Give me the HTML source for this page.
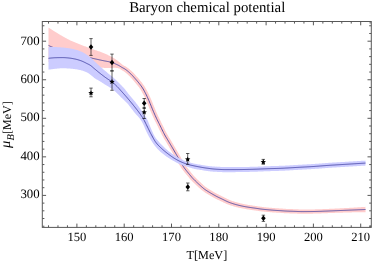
<!DOCTYPE html><html><head><meta charset="utf-8"><style>html,body{margin:0;padding:0;background:#fff;}body{width:372px;height:262px;overflow:hidden;position:relative;font-family:"Liberation Serif",serif;}</style></head><body><svg width="372" height="262" viewBox="0 0 372 262" style="position:absolute;left:0;top:0;will-change:transform;text-rendering:geometricPrecision">
<rect width="372" height="262" fill="#fff"/>
<path d="M48.50,27.60 L49.11,27.98 L49.72,28.36 L50.33,28.74 L50.94,29.12 L51.55,29.50 L52.16,29.88 L52.76,30.26 L53.37,30.64 L53.98,31.01 L54.59,31.39 L55.20,31.76 L55.81,32.14 L56.42,32.51 L57.03,32.89 L57.64,33.26 L58.25,33.64 L58.86,34.01 L59.47,34.39 L60.08,34.76 L60.68,35.13 L61.29,35.49 L61.90,35.85 L62.51,36.21 L63.12,36.56 L63.73,36.91 L64.34,37.25 L64.95,37.60 L65.56,37.94 L66.17,38.28 L66.78,38.61 L67.39,38.93 L68.00,39.25 L68.61,39.55 L69.21,39.85 L69.82,40.14 L70.43,40.43 L71.04,40.71 L71.65,40.99 L72.26,41.26 L72.87,41.53 L73.48,41.79 L74.09,42.05 L74.70,42.31 L75.31,42.57 L75.92,42.83 L76.53,43.08 L77.13,43.33 L77.74,43.58 L78.35,43.82 L78.96,44.06 L79.57,44.30 L80.18,44.54 L80.79,44.78 L81.40,45.02 L82.01,45.25 L82.62,45.47 L83.23,45.70 L83.84,45.92 L84.45,46.15 L85.05,46.37 L85.66,46.59 L86.27,46.82 L86.88,47.04 L87.49,47.27 L88.10,47.51 L88.71,47.74 L89.32,47.98 L89.93,48.22 L90.54,48.45 L91.15,48.68 L91.76,48.90 L92.37,49.13 L92.97,49.34 L93.58,49.56 L94.19,49.77 L94.80,49.97 L95.41,50.16 L96.02,50.35 L96.63,50.55 L97.24,50.75 L97.85,50.95 L98.46,51.16 L99.07,51.37 L99.68,51.59 L100.29,51.81 L100.89,52.03 L101.50,52.26 L102.11,52.49 L102.72,52.73 L103.33,52.98 L103.94,53.23 L104.55,53.49 L105.16,53.76 L105.77,54.03 L106.38,54.30 L106.99,54.57 L107.60,54.85 L108.21,55.13 L108.82,55.41 L109.42,55.70 L110.03,56.01 L110.64,56.32 L111.25,56.64 L111.86,56.98 L112.47,57.33 L113.08,57.69 L113.69,58.06 L114.30,58.44 L114.91,58.84 L115.52,59.25 L116.13,59.69 L116.74,60.15 L117.34,60.62 L117.95,61.09 L118.56,61.55 L119.17,62.01 L119.78,62.47 L120.39,62.93 L121.00,63.40 L122.85,65.04 L123.41,65.36 L123.98,65.66 L124.62,65.98 L125.33,66.35 L126.07,66.78 L126.79,67.26 L127.49,67.75 L128.18,68.27 L128.87,68.81 L129.54,69.36 L130.21,69.94 L130.87,70.52 L131.53,71.12 L132.19,71.72 L132.86,72.36 L133.55,73.05 L134.23,73.77 L134.89,74.50 L135.53,75.23 L136.16,75.94 L136.80,76.65 L137.44,77.37 L138.08,78.09 L138.73,78.84 L139.38,79.60 L140.04,80.38 L140.69,81.18 L141.35,82.01 L142.01,82.86 L142.66,83.74 L143.32,84.63 L143.99,85.58 L144.67,86.60 L145.34,87.72 L146.01,88.88 L146.66,90.07 L147.30,91.28 L147.95,92.54 L148.60,93.85 L149.25,95.22 L149.89,96.63 L150.53,98.06 L151.17,99.53 L151.81,101.03 L152.45,102.57 L153.09,104.15 L153.72,105.73 L154.35,107.29 L154.97,108.80 L155.59,110.27 L156.22,111.73 L156.85,113.16 L157.47,114.56 L158.09,115.94 L158.72,117.27 L159.34,118.57 L159.96,119.84 L160.59,121.11 L161.23,122.38 L161.87,123.66 L162.51,124.96 L163.15,126.27 L163.78,127.58 L164.41,128.87 L165.04,130.15 L165.67,131.39 L166.29,132.59 L166.90,133.74 L167.51,134.83 L168.13,135.87 L168.75,136.91 L169.39,137.94 L170.03,138.98 L170.67,140.05 L171.31,141.12 L171.94,142.18 L172.58,143.25 L173.21,144.32 L173.85,145.39 L174.49,146.47 L175.13,147.55 L175.76,148.64 L176.40,149.74 L177.04,150.84 L177.67,151.94 L178.31,153.03 L178.94,154.12 L179.58,155.23 L180.23,156.35 L180.87,157.49 L181.50,158.63 L182.14,159.77 L182.77,160.88 L183.39,161.97 L184.01,163.02 L184.62,164.03 L185.23,164.98 L185.83,165.87 L186.43,166.71 L187.04,167.53 L187.65,168.32 L188.26,169.09 L188.88,169.85 L189.51,170.61 L190.15,171.37 L190.79,172.15 L191.43,172.94 L192.07,173.72 L192.69,174.48 L193.30,175.22 L193.90,175.91 L194.50,176.57 L195.11,177.21 L195.73,177.85 L196.34,178.47 L196.96,179.08 L197.58,179.68 L198.20,180.27 L198.83,180.86 L199.46,181.45 L200.09,182.03 L200.72,182.62 L201.36,183.21 L201.99,183.79 L202.61,184.36 L203.23,184.92 L203.84,185.46 L204.45,185.98 L205.05,186.47 L205.64,186.93 L206.23,187.37 L206.82,187.78 L207.41,188.18 L208.02,188.57 L208.62,188.95 L209.24,189.32 L209.86,189.69 L210.49,190.07 L211.13,190.44 L211.77,190.82 L212.40,191.19 L213.03,191.56 L213.66,191.93 L214.28,192.29 L214.90,192.64 L215.52,192.99 L216.14,193.33 L216.76,193.67 L217.37,193.99 L217.98,194.31 L218.59,194.62 L219.21,194.93 L219.83,195.23 L220.45,195.53 L221.08,195.83 L221.71,196.13 L222.35,196.44 L222.99,196.75 L223.64,197.06 L224.29,197.39 L224.93,197.71 L225.57,198.04 L226.19,198.36 L226.81,198.67 L227.42,198.97 L228.02,199.26 L228.61,199.53 L229.19,199.78 L229.79,200.02 L230.39,200.25 L231.00,200.48 L231.61,200.70 L232.22,200.92 L232.84,201.13 L233.45,201.33 L234.07,201.53 L234.68,201.72 L235.30,201.91 L235.92,202.09 L236.54,202.27 L237.16,202.45 L237.78,202.62 L238.40,202.78 L239.02,202.94 L239.64,203.10 L240.25,203.25 L240.87,203.40 L241.49,203.54 L242.11,203.68 L242.73,203.82 L243.35,203.95 L243.98,204.08 L244.60,204.20 L245.22,204.32 L245.84,204.44 L246.47,204.55 L247.09,204.66 L247.72,204.77 L248.34,204.88 L248.96,204.98 L249.59,205.08 L250.21,205.17 L250.84,205.27 L251.47,205.36 L252.10,205.45 L252.74,205.54 L253.37,205.63 L254.01,205.72 L254.64,205.81 L255.28,205.90 L255.92,206.00 L256.56,206.09 L257.21,206.19 L257.85,206.29 L258.48,206.39 L259.12,206.49 L259.75,206.59 L260.37,206.68 L260.99,206.77 L261.61,206.86 L262.22,206.94 L262.84,207.01 L263.46,207.08 L264.08,207.15 L264.71,207.21 L265.34,207.28 L265.97,207.34 L266.60,207.40 L267.23,207.45 L267.87,207.51 L268.50,207.57 L269.13,207.63 L269.77,207.68 L270.40,207.74 L271.03,207.80 L271.66,207.85 L272.29,207.90 L272.92,207.96 L273.55,208.01 L274.18,208.06 L274.81,208.10 L275.44,208.15 L276.07,208.19 L276.70,208.24 L277.34,208.28 L277.97,208.32 L278.60,208.36 L279.24,208.40 L279.88,208.44 L280.51,208.48 L281.15,208.53 L281.80,208.57 L282.44,208.62 L283.07,208.67 L283.70,208.71 L284.33,208.76 L284.96,208.80 L285.59,208.84 L286.21,208.88 L286.83,208.91 L287.45,208.94 L288.08,208.97 L288.70,208.99 L289.34,209.01 L289.97,209.03 L290.60,209.05 L291.24,209.07 L291.87,209.09 L292.51,209.12 L293.15,209.14 L293.79,209.16 L294.44,209.19 L295.08,209.22 L295.72,209.25 L296.35,209.28 L296.99,209.31 L297.62,209.34 L298.25,209.36 L298.87,209.39 L299.50,209.41 L300.12,209.43 L300.74,209.45 L301.36,209.46 L301.98,209.46 L302.61,209.46 L303.24,209.46 L303.87,209.46 L304.50,209.46 L305.14,209.46 L305.77,209.46 L306.40,209.46 L307.04,209.45 L307.67,209.45 L308.31,209.44 L308.94,209.44 L309.57,209.43 L310.21,209.43 L310.84,209.42 L311.48,209.42 L312.11,209.41 L312.75,209.40 L313.38,209.40 L314.01,209.39 L314.64,209.38 L315.27,209.37 L315.90,209.36 L316.53,209.34 L317.16,209.32 L317.79,209.31 L318.42,209.29 L319.05,209.26 L319.68,209.24 L320.32,209.22 L320.95,209.19 L321.58,209.17 L322.22,209.15 L322.85,209.12 L323.49,209.09 L324.12,209.07 L324.76,209.05 L325.40,209.02 L326.04,209.00 L326.67,208.97 L327.30,208.95 L327.94,208.92 L328.57,208.90 L329.21,208.87 L329.84,208.84 L330.47,208.81 L331.11,208.79 L331.74,208.76 L332.38,208.73 L333.01,208.70 L333.65,208.67 L334.28,208.64 L334.92,208.60 L335.55,208.57 L336.19,208.54 L336.82,208.51 L337.46,208.48 L338.10,208.45 L338.73,208.41 L339.37,208.38 L340.00,208.35 L340.64,208.32 L341.27,208.29 L341.91,208.25 L342.54,208.22 L343.18,208.19 L343.81,208.15 L344.45,208.12 L345.08,208.09 L345.72,208.05 L346.35,208.02 L346.99,207.99 L347.62,207.95 L348.26,207.92 L348.89,207.88 L349.53,207.85 L350.16,207.82 L350.80,207.78 L351.43,207.75 L352.07,207.71 L352.70,207.68 L353.33,207.64 L353.97,207.60 L354.60,207.56 L355.24,207.52 L355.87,207.49 L356.51,207.45 L357.14,207.41 L357.78,207.37 L358.41,207.32 L359.05,207.28 L359.68,207.24 L360.32,207.20 L360.95,207.16 L361.59,207.12 L362.22,207.07 L362.86,207.03 L363.49,206.99 L364.12,206.95 L364.76,206.90 L365.39,206.86 L365.61,212.15 L364.97,212.16 L364.33,212.16 L363.70,212.17 L363.06,212.18 L362.43,212.19 L361.79,212.20 L361.15,212.21 L360.52,212.22 L359.88,212.22 L359.25,212.23 L358.61,212.24 L357.98,212.25 L357.34,212.27 L356.70,212.28 L356.07,212.29 L355.43,212.30 L354.80,212.31 L354.16,212.33 L353.52,212.34 L352.89,212.36 L352.25,212.37 L351.62,212.39 L350.98,212.40 L350.35,212.42 L349.71,212.44 L349.08,212.45 L348.44,212.47 L347.80,212.49 L347.17,212.51 L346.53,212.53 L345.90,212.54 L345.26,212.56 L344.63,212.58 L343.99,212.60 L343.36,212.62 L342.72,212.64 L342.08,212.66 L341.45,212.67 L340.81,212.69 L340.18,212.71 L339.54,212.73 L338.91,212.75 L338.27,212.77 L337.64,212.79 L337.00,212.81 L336.37,212.83 L335.73,212.85 L335.10,212.87 L334.46,212.90 L333.82,212.92 L333.19,212.94 L332.55,212.96 L331.92,212.99 L331.28,213.01 L330.65,213.03 L330.01,213.05 L329.37,213.08 L328.74,213.10 L328.10,213.12 L327.46,213.15 L326.83,213.17 L326.19,213.19 L325.56,213.22 L324.92,213.24 L324.29,213.27 L323.66,213.29 L323.02,213.32 L322.39,213.34 L321.75,213.37 L321.11,213.40 L320.48,213.42 L319.84,213.45 L319.20,213.47 L318.56,213.49 L317.92,213.51 L317.28,213.53 L316.64,213.55 L316.00,213.57 L315.36,213.59 L314.71,213.60 L314.07,213.61 L313.44,213.62 L312.80,213.63 L312.16,213.64 L311.53,213.65 L310.89,213.66 L310.26,213.67 L309.62,213.67 L308.98,213.68 L308.35,213.69 L307.71,213.70 L307.07,213.70 L306.44,213.71 L305.80,213.72 L305.16,213.72 L304.52,213.73 L303.89,213.73 L303.25,213.73 L302.61,213.74 L301.97,213.74 L301.32,213.74 L300.66,213.73 L300.01,213.72 L299.37,213.70 L298.72,213.68 L298.08,213.66 L297.44,213.63 L296.80,213.61 L296.16,213.58 L295.52,213.55 L294.89,213.53 L294.26,213.50 L293.63,213.48 L293.01,213.46 L292.38,213.44 L291.74,213.43 L291.11,213.41 L290.48,213.39 L289.84,213.38 L289.20,213.36 L288.56,213.34 L287.92,213.32 L287.27,213.30 L286.63,213.27 L285.98,213.24 L285.33,213.21 L284.68,213.17 L284.04,213.13 L283.40,213.08 L282.76,213.04 L282.12,213.00 L281.49,212.95 L280.86,212.91 L280.23,212.87 L279.60,212.84 L278.97,212.80 L278.33,212.76 L277.70,212.72 L277.06,212.68 L276.42,212.64 L275.78,212.60 L275.14,212.56 L274.50,212.52 L273.86,212.47 L273.22,212.43 L272.58,212.38 L271.94,212.33 L271.30,212.28 L270.66,212.23 L270.02,212.18 L269.38,212.12 L268.74,212.07 L268.11,212.01 L267.47,211.96 L266.83,211.90 L266.20,211.85 L265.56,211.79 L264.92,211.73 L264.27,211.67 L263.63,211.61 L262.98,211.55 L262.33,211.48 L261.68,211.40 L261.02,211.32 L260.37,211.24 L259.72,211.14 L259.07,211.05 L258.43,210.95 L257.79,210.86 L257.16,210.76 L256.53,210.67 L255.90,210.58 L255.27,210.49 L254.64,210.40 L254.01,210.31 L253.38,210.23 L252.74,210.14 L252.11,210.05 L251.47,209.97 L250.83,209.88 L250.19,209.79 L249.55,209.70 L248.90,209.61 L248.26,209.51 L247.61,209.41 L246.96,209.31 L246.32,209.20 L245.67,209.09 L245.02,208.98 L244.38,208.86 L243.73,208.74 L243.08,208.62 L242.43,208.50 L241.78,208.37 L241.13,208.23 L240.48,208.09 L239.83,207.95 L239.18,207.81 L238.53,207.65 L237.87,207.50 L237.22,207.33 L236.57,207.17 L235.92,207.00 L235.27,206.82 L234.62,206.64 L233.97,206.45 L233.31,206.27 L232.66,206.07 L232.01,205.87 L231.35,205.66 L230.69,205.45 L230.03,205.22 L229.37,204.99 L228.71,204.76 L228.05,204.51 L227.37,204.25 L226.68,203.96 L226.00,203.66 L225.33,203.36 L224.67,203.04 L224.02,202.73 L223.37,202.41 L222.74,202.10 L222.11,201.79 L221.49,201.49 L220.87,201.20 L220.24,200.91 L219.60,200.62 L218.96,200.32 L218.32,200.02 L217.68,199.72 L217.02,199.41 L216.37,199.09 L215.71,198.76 L215.05,198.42 L214.40,198.07 L213.74,197.72 L213.09,197.36 L212.44,196.99 L211.79,196.62 L211.14,196.24 L210.50,195.86 L209.86,195.48 L209.22,195.09 L208.59,194.71 L207.95,194.34 L207.31,193.95 L206.67,193.56 L206.01,193.15 L205.35,192.73 L204.68,192.29 L204.01,191.83 L203.33,191.35 L202.64,190.83 L201.96,190.29 L201.29,189.73 L200.63,189.16 L199.97,188.58 L199.32,187.99 L198.67,187.40 L198.03,186.80 L197.39,186.21 L196.76,185.63 L196.12,185.04 L195.48,184.44 L194.83,183.83 L194.18,183.21 L193.53,182.58 L192.88,181.94 L192.23,181.28 L191.57,180.60 L190.91,179.90 L190.24,179.16 L189.57,178.39 L188.91,177.60 L188.27,176.81 L187.63,176.03 L187.00,175.26 L186.37,174.50 L185.74,173.74 L185.10,172.96 L184.45,172.16 L183.79,171.34 L183.13,170.49 L182.47,169.60 L181.80,168.66 L181.13,167.67 L180.46,166.62 L179.80,165.54 L179.15,164.43 L178.51,163.30 L177.86,162.17 L177.23,161.02 L176.59,159.89 L175.96,158.77 L175.34,157.67 L174.71,156.59 L174.07,155.49 L173.43,154.39 L172.80,153.29 L172.16,152.20 L171.53,151.11 L170.90,150.03 L170.27,148.96 L169.64,147.89 L169.00,146.82 L168.37,145.76 L167.73,144.70 L167.10,143.63 L166.46,142.57 L165.84,141.53 L165.21,140.50 L164.57,139.45 L163.92,138.38 L163.27,137.27 L162.61,136.10 L161.95,134.88 L161.30,133.62 L160.66,132.33 L160.01,131.03 L159.37,129.72 L158.74,128.41 L158.11,127.11 L157.48,125.83 L156.85,124.57 L156.21,123.30 L155.57,122.03 L154.92,120.72 L154.28,119.38 L153.63,118.00 L152.98,116.60 L152.33,115.16 L151.69,113.70 L151.05,112.23 L150.40,110.73 L149.75,109.18 L149.10,107.60 L148.47,106.02 L147.83,104.48 L147.20,102.99 L146.57,101.53 L145.94,100.10 L145.31,98.71 L144.68,97.36 L144.06,96.07 L143.44,94.83 L142.82,93.64 L142.20,92.49 L141.57,91.36 L140.97,90.31 L140.37,89.34 L139.78,88.46 L139.18,87.61 L138.56,86.77 L137.95,85.95 L137.34,85.15 L136.72,84.38 L136.11,83.63 L135.49,82.89 L134.87,82.17 L134.25,81.46 L133.63,80.75 L133.00,80.04 L132.36,79.32 L131.72,78.60 L131.09,77.89 L130.48,77.22 L129.89,76.58 L129.31,76.00 L128.71,75.43 L128.10,74.85 L127.48,74.29 L126.88,73.75 L126.28,73.23 L125.68,72.74 L125.09,72.27 L124.51,71.83 L123.94,71.42 L123.40,71.06 L122.87,70.74 L122.31,70.44 L121.67,70.12 L120.97,69.74 L120.00,68.80 L119.40,68.59 L118.80,68.39 L118.20,68.24 L117.60,68.12 L117.00,68.01 L116.39,67.91 L115.79,67.84 L115.19,67.80 L114.59,67.80 L113.99,67.82 L113.39,67.84 L112.79,67.86 L112.19,67.88 L111.59,67.90 L110.99,67.92 L110.39,67.93 L109.79,67.95 L109.18,67.96 L108.58,67.98 L107.98,67.99 L107.38,68.00 L106.78,68.00 L106.18,68.00 L105.58,67.98 L104.98,67.95 L104.38,67.91 L103.78,67.87 L103.18,67.81 L102.58,67.76 L101.97,67.70 L101.37,67.64 L100.77,67.57 L100.17,67.52 L99.57,67.46 L98.97,67.40 L98.37,67.34 L97.77,67.27 L97.17,67.21 L96.57,67.14 L95.97,67.06 L95.37,66.99 L94.76,66.91 L94.16,66.82 L93.56,66.73 L92.96,66.64 L92.36,66.53 L91.76,66.41 L91.16,66.29 L90.56,66.16 L89.96,66.03 L89.36,65.89 L88.76,65.75 L88.16,65.61 L87.55,65.46 L86.95,65.32 L86.35,65.18 L85.75,65.04 L85.15,64.90 L84.55,64.77 L83.95,64.64 L83.35,64.52 L82.75,64.40 L82.15,64.30 L81.55,64.20 L80.95,64.11 L80.34,64.04 L79.74,63.97 L79.14,63.91 L78.54,63.85 L77.94,63.79 L77.34,63.73 L76.74,63.67 L76.14,63.61 L75.54,63.55 L74.94,63.49 L74.34,63.44 L73.74,63.38 L73.13,63.32 L72.53,63.27 L71.93,63.21 L71.33,63.16 L70.73,63.11 L70.13,63.05 L69.53,63.00 L68.93,62.95 L68.33,62.90 L67.73,62.85 L67.13,62.81 L66.53,62.76 L65.92,62.71 L65.32,62.67 L64.72,62.63 L64.12,62.58 L63.52,62.54 L62.92,62.50 L62.32,62.47 L61.72,62.43 L61.12,62.39 L60.52,62.36 L59.92,62.33 L59.32,62.29 L58.71,62.26 L58.11,62.23 L57.51,62.21 L56.91,62.18 L56.31,62.16 L55.71,62.13 L55.11,62.11 L54.51,62.09 L53.91,62.08 L53.31,62.06 L52.71,62.05 L52.11,62.03 L51.50,62.02 L50.90,62.02 L50.30,62.01 L49.70,62.00 L49.10,62.00 L48.50,62.00Z" fill="#ffcccc"/>
<path d="M48.50,45.40 L49.14,45.72 L49.77,46.03 L50.41,46.33 L51.04,46.62 L51.68,46.90 L52.31,47.15 L52.95,47.39 L53.58,47.61 L54.22,47.82 L54.85,48.03 L55.49,48.22 L56.12,48.41 L56.76,48.59 L57.39,48.77 L58.03,48.94 L58.66,49.12 L59.30,49.30 L59.93,49.48 L60.57,49.67 L61.21,49.85 L61.84,50.03 L62.48,50.21 L63.11,50.39 L63.75,50.57 L64.38,50.75 L65.02,50.92 L65.65,51.10 L66.29,51.28 L66.92,51.45 L67.56,51.63 L68.19,51.80 L68.83,51.98 L69.46,52.15 L70.10,52.33 L70.73,52.50 L71.37,52.68 L72.01,52.85 L72.64,53.02 L73.28,53.19 L73.91,53.37 L74.55,53.54 L75.18,53.71 L75.82,53.88 L76.45,54.05 L77.09,54.22 L77.72,54.39 L78.36,54.56 L78.99,54.73 L79.63,54.90 L80.26,55.07 L80.90,55.24 L81.53,55.41 L82.17,55.59 L82.80,55.76 L83.44,55.93 L84.08,56.11 L84.71,56.28 L85.35,56.45 L85.98,56.62 L86.62,56.79 L87.25,56.96 L87.89,57.13 L88.52,57.30 L89.16,57.46 L89.79,57.62 L90.43,57.78 L91.06,57.94 L91.70,58.10 L92.33,58.25 L92.97,58.40 L93.60,58.55 L94.24,58.69 L94.87,58.84 L95.51,58.98 L96.15,59.12 L96.78,59.26 L97.42,59.40 L98.05,59.54 L98.69,59.68 L99.32,59.82 L99.96,59.95 L100.59,60.09 L101.23,60.22 L101.86,60.36 L102.50,60.49 L103.13,60.62 L103.77,60.76 L104.40,60.88 L105.04,61.00 L105.67,61.12 L106.31,61.24 L106.94,61.35 L107.58,61.47 L108.22,61.59 L108.85,61.72 L109.49,61.85 L110.12,61.99 L110.76,62.15 L111.39,62.31 L112.03,62.50 L112.66,62.71 L113.30,62.96 L113.93,63.22 L114.57,63.50 L115.20,63.79 L115.84,64.07 L116.47,64.36 L117.11,64.65 L117.74,64.96 L118.38,65.28 L119.02,65.62 L119.65,65.99 L120.29,66.38 L120.92,66.78 L121.56,67.18 L122.19,67.55 L122.83,67.89 L123.46,68.21 L124.10,68.55 L124.73,68.92 L125.37,69.34 L126.00,69.79 L126.64,70.27 L127.27,70.77 L127.91,71.30 L128.54,71.84 L129.18,72.41 L129.81,72.99 L130.45,73.58 L131.09,74.18 L131.72,74.82 L132.36,75.49 L132.99,76.20 L133.63,76.91 L134.26,77.63 L134.90,78.34 L135.53,79.06 L136.17,79.78 L136.80,80.50 L137.44,81.25 L138.07,82.00 L138.71,82.78 L139.34,83.58 L139.98,84.40 L140.61,85.25 L141.25,86.12 L141.88,87.02 L142.52,87.97 L143.16,89.01 L143.79,90.12 L144.43,91.28 L145.06,92.46 L145.70,93.69 L146.33,94.96 L146.97,96.29 L147.60,97.67 L148.24,99.08 L148.87,100.53 L149.51,102.01 L150.14,103.52 L150.78,105.08 L151.41,106.67 L152.05,108.24 L152.68,109.76 L153.32,111.25 L153.95,112.72 L154.59,114.16 L155.23,115.58 L155.86,116.97 L156.50,118.33 L157.13,119.65 L157.77,120.93 L158.40,122.21 L159.04,123.47 L159.67,124.74 L160.31,126.03 L160.94,127.34 L161.58,128.65 L162.21,129.95 L162.85,131.24 L163.48,132.51 L164.12,133.73 L164.75,134.92 L165.39,136.05 L166.03,137.13 L166.66,138.18 L167.30,139.22 L167.93,140.26 L168.57,141.31 L169.20,142.38 L169.84,143.44 L170.47,144.51 L171.11,145.57 L171.74,146.64 L172.38,147.71 L173.01,148.79 L173.65,149.88 L174.28,150.97 L174.92,152.07 L175.55,153.16 L176.19,154.26 L176.82,155.36 L177.46,156.45 L178.10,157.56 L178.73,158.69 L179.37,159.83 L180.00,160.97 L180.64,162.09 L181.27,163.20 L181.91,164.28 L182.54,165.33 L183.18,166.32 L183.81,167.26 L184.45,168.15 L185.08,169.01 L185.72,169.83 L186.35,170.63 L186.99,171.41 L187.62,172.17 L188.26,172.94 L188.89,173.71 L189.53,174.48 L190.17,175.27 L190.80,176.04 L191.44,176.80 L192.07,177.54 L192.71,178.23 L193.34,178.91 L193.98,179.56 L194.61,180.20 L195.25,180.83 L195.88,181.44 L196.52,182.05 L197.15,182.65 L197.79,183.24 L198.42,183.83 L199.06,184.42 L199.69,185.01 L200.33,185.60 L200.96,186.18 L201.60,186.75 L202.24,187.31 L202.87,187.85 L203.51,188.38 L204.14,188.88 L204.78,189.36 L205.41,189.81 L206.05,190.24 L206.68,190.65 L207.32,191.05 L207.95,191.44 L208.59,191.82 L209.22,192.20 L209.86,192.58 L210.49,192.96 L211.13,193.34 L211.76,193.71 L212.40,194.08 L213.04,194.45 L213.67,194.82 L214.31,195.17 L214.94,195.53 L215.58,195.87 L216.21,196.21 L216.85,196.53 L217.48,196.85 L218.12,197.17 L218.75,197.47 L219.39,197.78 L220.02,198.08 L220.66,198.38 L221.29,198.67 L221.93,198.98 L222.56,199.28 L223.20,199.59 L223.83,199.91 L224.47,200.22 L225.11,200.54 L225.74,200.86 L226.38,201.16 L227.01,201.46 L227.65,201.74 L228.28,202.01 L228.92,202.26 L229.55,202.50 L230.19,202.74 L230.82,202.96 L231.46,203.18 L232.09,203.39 L232.73,203.60 L233.36,203.80 L234.00,203.99 L234.63,204.18 L235.27,204.37 L235.90,204.55 L236.54,204.72 L237.18,204.89 L237.81,205.06 L238.45,205.22 L239.08,205.38 L239.72,205.53 L240.35,205.68 L240.99,205.82 L241.62,205.96 L242.26,206.09 L242.89,206.22 L243.53,206.35 L244.16,206.47 L244.80,206.59 L245.43,206.71 L246.07,206.82 L246.70,206.93 L247.34,207.04 L247.97,207.14 L248.61,207.24 L249.25,207.34 L249.88,207.44 L250.52,207.53 L251.15,207.62 L251.79,207.71 L252.42,207.80 L253.06,207.88 L253.69,207.97 L254.33,208.06 L254.96,208.15 L255.60,208.24 L256.23,208.33 L256.87,208.43 L257.50,208.53 L258.14,208.62 L258.77,208.72 L259.41,208.82 L260.05,208.91 L260.68,209.00 L261.32,209.09 L261.95,209.17 L262.59,209.24 L263.22,209.31 L263.86,209.38 L264.49,209.44 L265.13,209.50 L265.76,209.56 L266.40,209.62 L267.03,209.68 L267.67,209.74 L268.30,209.79 L268.94,209.85 L269.57,209.90 L270.21,209.96 L270.84,210.01 L271.48,210.07 L272.12,210.12 L272.75,210.17 L273.39,210.22 L274.02,210.26 L274.66,210.31 L275.29,210.36 L275.93,210.40 L276.56,210.44 L277.20,210.48 L277.83,210.52 L278.47,210.56 L279.10,210.60 L279.74,210.64 L280.37,210.68 L281.01,210.72 L281.64,210.76 L282.28,210.81 L282.91,210.85 L283.55,210.90 L284.19,210.94 L284.82,210.99 L285.46,211.03 L286.09,211.06 L286.73,211.09 L287.36,211.12 L288.00,211.14 L288.63,211.17 L289.27,211.19 L289.90,211.20 L290.54,211.22 L291.17,211.24 L291.81,211.26 L292.44,211.28 L293.08,211.30 L293.71,211.32 L294.35,211.35 L294.98,211.37 L295.62,211.40 L296.26,211.43 L296.89,211.46 L297.53,211.49 L298.16,211.51 L298.80,211.54 L299.43,211.56 L300.07,211.57 L300.70,211.59 L301.34,211.60 L301.97,211.60 L302.61,211.60 L303.24,211.60 L303.88,211.60 L304.51,211.59 L305.15,211.59 L305.78,211.59 L306.42,211.58 L307.06,211.58 L307.69,211.57 L308.33,211.57 L308.96,211.56 L309.60,211.55 L310.23,211.55 L310.87,211.54 L311.50,211.53 L312.14,211.52 L312.77,211.52 L313.41,211.51 L314.04,211.50 L314.68,211.49 L315.31,211.48 L315.95,211.46 L316.58,211.45 L317.22,211.43 L317.85,211.41 L318.49,211.39 L319.13,211.37 L319.76,211.34 L320.40,211.32 L321.03,211.30 L321.67,211.27 L322.30,211.24 L322.94,211.22 L323.57,211.19 L324.21,211.17 L324.84,211.14 L325.48,211.12 L326.11,211.10 L326.75,211.07 L327.38,211.05 L328.02,211.02 L328.65,211.00 L329.29,210.97 L329.92,210.95 L330.56,210.92 L331.20,210.90 L331.83,210.87 L332.47,210.85 L333.10,210.82 L333.74,210.79 L334.37,210.77 L335.01,210.74 L335.64,210.71 L336.28,210.69 L336.91,210.66 L337.55,210.63 L338.18,210.61 L338.82,210.58 L339.45,210.56 L340.09,210.53 L340.72,210.51 L341.36,210.48 L341.99,210.45 L342.63,210.43 L343.27,210.40 L343.90,210.38 L344.54,210.35 L345.17,210.32 L345.81,210.30 L346.44,210.27 L347.08,210.25 L347.71,210.22 L348.35,210.20 L348.98,210.17 L349.62,210.14 L350.25,210.12 L350.89,210.09 L351.52,210.07 L352.16,210.04 L352.79,210.02 L353.43,209.99 L354.07,209.96 L354.70,209.94 L355.34,209.91 L355.97,209.89 L356.61,209.86 L357.24,209.84 L357.88,209.81 L358.51,209.78 L359.15,209.76 L359.78,209.73 L360.42,209.71 L361.05,209.68 L361.69,209.66 L362.32,209.63 L362.96,209.61 L363.59,209.58 L364.23,209.55 L364.86,209.53 L365.50,209.50" fill="none" stroke="#36369a" stroke-width="0.8"/>
<path d="M48.50,46.90 L49.14,46.90 L49.77,46.91 L50.41,46.92 L51.04,46.93 L51.68,46.95 L52.31,46.96 L52.95,46.98 L53.58,47.00 L54.22,47.02 L54.85,47.04 L55.49,47.07 L56.12,47.09 L56.76,47.11 L57.39,47.14 L58.03,47.18 L58.66,47.21 L59.30,47.25 L59.93,47.30 L60.57,47.35 L61.21,47.40 L61.84,47.45 L62.48,47.50 L63.11,47.55 L63.75,47.61 L64.38,47.67 L65.02,47.74 L65.65,47.81 L66.29,47.88 L66.92,47.96 L67.56,48.04 L68.19,48.13 L68.83,48.22 L69.46,48.32 L70.10,48.43 L70.73,48.55 L71.37,48.68 L72.01,48.81 L72.64,48.95 L73.28,49.10 L73.91,49.25 L74.55,49.41 L75.18,49.57 L75.82,49.74 L76.45,49.92 L77.09,50.10 L77.72,50.29 L78.36,50.49 L78.99,50.71 L79.63,50.93 L80.26,51.17 L80.90,51.42 L81.53,51.69 L82.17,51.99 L82.80,52.32 L83.44,52.68 L84.08,53.05 L84.71,53.43 L85.35,53.81 L85.98,54.22 L86.62,54.64 L87.25,55.08 L87.89,55.54 L88.52,56.02 L89.16,56.51 L89.79,57.03 L90.43,57.56 L91.06,58.11 L91.70,58.67 L92.33,59.24 L92.97,59.82 L93.60,60.41 L94.24,61.02 L94.87,61.63 L95.51,62.24 L96.15,62.84 L96.78,63.44 L97.42,64.04 L98.05,64.63 L98.69,65.23 L99.32,65.81 L99.96,66.39 L100.59,66.96 L101.23,67.52 L101.86,68.07 L102.50,68.62 L103.13,69.17 L103.77,69.71 L104.40,70.24 L105.04,70.78 L105.67,71.31 L106.31,71.84 L106.94,72.37 L107.58,72.89 L108.22,73.40 L108.85,73.91 L109.49,74.42 L110.12,74.93 L110.76,75.45 L111.39,75.97 L112.03,76.51 L112.66,77.05 L113.30,77.61 L113.93,78.18 L114.57,78.76 L115.20,79.35 L115.84,79.94 L116.47,80.54 L117.11,81.15 L117.74,81.76 L118.38,82.39 L119.02,83.01 L119.65,83.64 L120.29,84.28 L120.92,84.91 L121.56,85.56 L122.19,86.22 L122.83,86.90 L123.46,87.59 L124.10,88.30 L124.73,89.04 L125.37,89.83 L126.00,90.66 L126.64,91.51 L127.27,92.34 L127.91,93.13 L128.54,93.90 L129.18,94.66 L129.81,95.41 L130.45,96.15 L131.09,96.90 L131.72,97.64 L132.36,98.40 L132.99,99.17 L133.63,99.96 L134.26,100.75 L134.90,101.55 L135.53,102.35 L136.17,103.16 L136.80,103.98 L137.44,104.82 L138.07,105.66 L138.71,106.52 L139.34,107.40 L139.98,108.30 L140.61,109.24 L141.25,110.20 L141.88,111.19 L142.52,112.18 L143.16,113.17 L143.79,114.14 L144.43,115.05 L145.06,115.93 L145.70,116.83 L146.33,117.81 L146.97,118.93 L147.60,120.29 L148.24,121.85 L148.87,123.46 L149.51,124.99 L150.14,126.49 L150.78,127.98 L151.41,129.45 L152.05,130.89 L152.68,132.35 L153.32,133.75 L153.95,135.00 L154.59,136.13 L155.23,137.18 L155.86,138.15 L156.50,139.03 L157.13,139.85 L157.77,140.62 L158.40,141.36 L159.04,142.06 L159.67,142.74 L160.31,143.40 L160.94,144.04 L161.58,144.68 L162.21,145.31 L162.85,145.95 L163.48,146.58 L164.12,147.20 L164.75,147.81 L165.39,148.40 L166.03,148.99 L166.66,149.56 L167.30,150.11 L167.93,150.64 L168.57,151.15 L169.20,151.64 L169.84,152.12 L170.47,152.58 L171.11,153.03 L171.74,153.46 L172.38,153.89 L173.01,154.31 L173.65,154.72 L174.28,155.13 L174.92,155.54 L175.55,155.95 L176.19,156.36 L176.82,156.76 L177.46,157.16 L178.10,157.55 L178.73,157.93 L179.37,158.30 L180.00,158.64 L180.64,158.97 L181.27,159.28 L181.91,159.57 L182.54,159.86 L183.18,160.13 L183.81,160.39 L184.45,160.65 L185.08,160.89 L185.72,161.13 L186.35,161.35 L186.99,161.56 L187.62,161.77 L188.26,161.97 L188.89,162.17 L189.53,162.36 L190.17,162.55 L190.80,162.73 L191.44,162.91 L192.07,163.08 L192.71,163.25 L193.34,163.41 L193.98,163.56 L194.61,163.71 L195.25,163.85 L195.88,163.98 L196.52,164.10 L197.15,164.21 L197.79,164.32 L198.42,164.42 L199.06,164.52 L199.69,164.61 L200.33,164.71 L200.96,164.81 L201.60,164.92 L202.24,165.02 L202.87,165.13 L203.51,165.24 L204.14,165.35 L204.78,165.46 L205.41,165.56 L206.05,165.66 L206.68,165.75 L207.32,165.83 L207.95,165.91 L208.59,165.98 L209.22,166.06 L209.86,166.13 L210.49,166.20 L211.13,166.27 L211.76,166.34 L212.40,166.40 L213.04,166.46 L213.67,166.52 L214.31,166.57 L214.94,166.62 L215.58,166.67 L216.21,166.61 L216.85,166.66 L217.48,166.70 L218.12,166.74 L218.75,166.78 L219.39,166.82 L220.02,166.86 L220.66,166.90 L221.29,166.93 L221.93,166.96 L222.56,166.98 L223.20,167.00 L223.83,167.02 L224.47,167.03 L225.11,167.04 L225.74,167.04 L226.38,167.04 L227.01,167.04 L227.65,167.05 L228.28,167.05 L228.92,167.05 L229.55,167.05 L230.19,167.06 L230.82,167.06 L231.46,167.06 L232.09,167.06 L232.73,167.06 L233.36,167.07 L234.00,167.07 L234.63,167.07 L235.27,167.07 L235.90,167.08 L236.54,167.08 L237.18,167.08 L237.81,167.08 L238.45,167.07 L239.08,167.07 L239.72,167.06 L240.35,167.06 L240.99,167.05 L241.62,167.04 L242.26,167.03 L242.89,167.02 L243.53,167.01 L244.16,167.00 L244.80,166.98 L245.43,166.97 L246.07,166.96 L246.70,166.94 L247.34,166.93 L247.97,166.91 L248.61,166.89 L249.25,166.88 L249.88,166.86 L250.52,166.85 L251.15,166.83 L251.79,166.81 L252.42,166.80 L253.06,166.78 L253.69,166.76 L254.33,166.74 L254.96,166.72 L255.60,166.70 L256.23,166.68 L256.87,166.66 L257.50,166.63 L258.14,166.61 L258.77,166.58 L259.41,166.56 L260.05,166.53 L260.68,166.51 L261.32,166.48 L261.95,166.45 L262.59,166.43 L263.22,166.40 L263.86,166.37 L264.49,166.35 L265.13,166.32 L265.76,166.30 L266.40,166.27 L267.03,166.25 L267.67,166.23 L268.30,166.20 L268.94,166.18 L269.57,166.16 L270.21,166.14 L270.84,166.12 L271.48,166.10 L272.12,166.08 L272.75,166.07 L273.39,166.05 L274.02,166.03 L274.66,166.01 L275.29,165.99 L275.93,165.97 L276.56,165.96 L277.20,165.94 L277.83,165.92 L278.47,165.90 L279.10,165.87 L279.74,165.85 L280.37,165.83 L281.01,165.80 L281.64,165.78 L282.28,165.75 L282.91,165.72 L283.55,165.69 L284.19,165.66 L284.82,165.63 L285.46,165.59 L286.09,165.56 L286.73,165.53 L287.36,165.49 L288.00,165.45 L288.63,165.42 L289.27,165.38 L289.90,165.34 L290.54,165.30 L291.17,165.26 L291.81,165.22 L292.44,165.19 L293.08,165.15 L293.71,165.11 L294.35,165.07 L294.98,165.03 L295.62,165.00 L296.26,164.96 L296.89,164.92 L297.53,164.89 L298.16,164.85 L298.80,164.82 L299.43,164.78 L300.07,164.75 L300.70,164.71 L301.34,164.68 L301.97,164.65 L302.61,164.61 L303.24,164.58 L303.88,164.55 L304.51,164.51 L305.15,164.48 L305.78,164.44 L306.42,164.41 L307.06,164.37 L307.69,164.34 L308.33,164.30 L308.96,164.27 L309.60,164.23 L310.23,164.19 L310.87,164.16 L311.50,164.12 L312.14,164.08 L312.77,164.04 L313.41,164.00 L314.04,163.96 L314.68,163.92 L315.31,163.87 L315.95,163.83 L316.58,163.78 L317.22,163.73 L317.85,163.68 L318.49,163.63 L319.13,163.58 L319.76,163.53 L320.40,163.48 L321.03,163.43 L321.67,163.38 L322.30,163.33 L322.94,163.28 L323.57,163.23 L324.21,163.18 L324.84,163.14 L325.48,163.09 L326.11,163.04 L326.75,162.99 L327.38,162.95 L328.02,162.91 L328.65,162.86 L329.29,162.82 L329.92,162.78 L330.56,162.74 L331.20,162.70 L331.83,162.66 L332.47,162.62 L333.10,162.58 L333.74,162.54 L334.37,162.50 L335.01,162.46 L335.64,162.42 L336.28,162.38 L336.91,162.34 L337.55,162.31 L338.18,162.27 L338.82,162.23 L339.45,162.19 L340.09,162.15 L340.72,162.12 L341.36,162.08 L341.99,162.04 L342.63,162.00 L343.27,161.96 L343.90,161.92 L344.54,161.89 L345.17,161.85 L345.81,161.81 L346.44,161.77 L347.08,161.73 L347.71,161.69 L348.35,161.65 L348.98,161.61 L349.62,161.57 L350.25,161.53 L350.89,161.49 L351.52,161.45 L352.16,161.42 L352.79,161.38 L353.43,161.34 L354.07,161.30 L354.70,161.26 L355.34,161.22 L355.97,161.18 L356.61,161.14 L357.24,161.10 L357.88,161.06 L358.51,161.02 L359.15,160.98 L359.78,160.95 L360.42,160.91 L361.05,160.87 L361.69,160.83 L362.32,160.79 L362.96,160.75 L363.59,160.71 L364.23,160.67 L364.86,160.63 L365.50,160.59 L365.50,165.59 L364.86,165.63 L364.23,165.67 L363.59,165.71 L362.96,165.75 L362.32,165.79 L361.69,165.83 L361.05,165.87 L360.42,165.91 L359.78,165.95 L359.15,165.98 L358.51,166.02 L357.88,166.06 L357.24,166.10 L356.61,166.14 L355.97,166.18 L355.34,166.22 L354.70,166.26 L354.07,166.30 L353.43,166.34 L352.79,166.38 L352.16,166.42 L351.52,166.45 L350.89,166.49 L350.25,166.53 L349.62,166.57 L348.98,166.61 L348.35,166.65 L347.71,166.69 L347.08,166.73 L346.44,166.77 L345.81,166.81 L345.17,166.85 L344.54,166.89 L343.90,166.92 L343.27,166.96 L342.63,167.00 L341.99,167.04 L341.36,167.08 L340.72,167.12 L340.09,167.15 L339.45,167.19 L338.82,167.23 L338.18,167.27 L337.55,167.31 L336.91,167.34 L336.28,167.38 L335.64,167.42 L335.01,167.46 L334.37,167.50 L333.74,167.54 L333.10,167.58 L332.47,167.62 L331.83,167.66 L331.20,167.70 L330.56,167.74 L329.92,167.78 L329.29,167.82 L328.65,167.86 L328.02,167.91 L327.38,167.95 L326.75,167.99 L326.11,168.04 L325.48,168.09 L324.84,168.14 L324.21,168.18 L323.57,168.23 L322.94,168.28 L322.30,168.33 L321.67,168.38 L321.03,168.43 L320.40,168.48 L319.76,168.53 L319.13,168.58 L318.49,168.63 L317.85,168.68 L317.22,168.73 L316.58,168.78 L315.95,168.83 L315.31,168.87 L314.68,168.92 L314.04,168.96 L313.41,169.00 L312.77,169.04 L312.14,169.08 L311.50,169.12 L310.87,169.16 L310.23,169.19 L309.60,169.23 L308.96,169.27 L308.33,169.30 L307.69,169.34 L307.06,169.37 L306.42,169.41 L305.78,169.44 L305.15,169.48 L304.51,169.51 L303.88,169.55 L303.24,169.58 L302.61,169.61 L301.97,169.65 L301.34,169.68 L300.70,169.71 L300.07,169.75 L299.43,169.78 L298.80,169.82 L298.16,169.85 L297.53,169.89 L296.89,169.92 L296.26,169.96 L295.62,170.00 L294.98,170.03 L294.35,170.07 L293.71,170.11 L293.08,170.15 L292.44,170.19 L291.81,170.22 L291.17,170.26 L290.54,170.30 L289.90,170.34 L289.27,170.38 L288.63,170.42 L288.00,170.45 L287.36,170.49 L286.73,170.53 L286.09,170.56 L285.46,170.59 L284.82,170.63 L284.19,170.66 L283.55,170.69 L282.91,170.72 L282.28,170.75 L281.64,170.78 L281.01,170.80 L280.37,170.83 L279.74,170.85 L279.10,170.87 L278.47,170.90 L277.83,170.92 L277.20,170.94 L276.56,170.96 L275.93,170.97 L275.29,170.99 L274.66,171.01 L274.02,171.03 L273.39,171.05 L272.75,171.07 L272.12,171.08 L271.48,171.10 L270.84,171.12 L270.21,171.14 L269.57,171.16 L268.94,171.18 L268.30,171.20 L267.67,171.23 L267.03,171.25 L266.40,171.27 L265.76,171.30 L265.13,171.32 L264.49,171.35 L263.86,171.37 L263.22,171.40 L262.59,171.43 L261.95,171.45 L261.32,171.48 L260.68,171.51 L260.05,171.53 L259.41,171.56 L258.77,171.58 L258.14,171.61 L257.50,171.63 L256.87,171.66 L256.23,171.68 L255.60,171.70 L254.96,171.72 L254.33,171.74 L253.69,171.76 L253.06,171.78 L252.42,171.80 L251.79,171.81 L251.15,171.83 L250.52,171.85 L249.88,171.86 L249.25,171.88 L248.61,171.89 L247.97,171.91 L247.34,171.93 L246.70,171.94 L246.07,171.96 L245.43,171.98 L244.80,171.99 L244.16,172.01 L243.53,172.02 L242.89,172.03 L242.26,172.05 L241.62,172.06 L240.99,172.07 L240.35,172.08 L239.72,172.09 L239.08,172.10 L238.45,172.11 L237.81,172.11 L237.18,172.12 L236.54,172.12 L235.90,172.12 L235.27,172.13 L234.63,172.13 L234.00,172.13 L233.36,172.13 L232.73,172.14 L232.09,172.14 L231.46,172.14 L230.82,172.14 L230.19,172.14 L229.55,172.15 L228.92,172.15 L228.28,172.15 L227.65,172.15 L227.01,172.16 L226.38,172.16 L225.74,172.16 L225.11,172.16 L224.47,172.17 L223.83,172.16 L223.20,172.15 L222.56,172.13 L221.93,172.11 L221.29,172.09 L220.66,172.06 L220.02,172.03 L219.39,172.00 L218.75,171.96 L218.12,171.93 L217.48,171.89 L216.85,171.85 L216.21,171.81 L215.58,171.87 L214.94,171.82 L214.31,171.77 L213.67,171.72 L213.04,171.66 L212.40,171.60 L211.76,171.54 L211.13,171.47 L210.49,171.40 L209.86,171.33 L209.22,171.26 L208.59,171.18 L207.95,171.11 L207.32,171.03 L206.68,170.95 L206.05,170.86 L205.41,170.76 L204.78,170.66 L204.14,170.56 L203.51,170.45 L202.87,170.34 L202.24,170.23 L201.60,170.12 L200.96,170.01 L200.33,169.90 L199.69,169.80 L199.06,169.70 L198.42,169.59 L197.79,169.49 L197.15,169.38 L196.52,169.26 L195.88,169.14 L195.25,169.02 L194.61,168.88 L193.98,168.73 L193.34,168.58 L192.71,168.41 L192.07,168.23 L191.44,168.04 L190.80,167.85 L190.17,167.66 L189.53,167.46 L188.89,167.26 L188.26,167.06 L187.62,166.86 L186.99,166.67 L186.35,166.47 L185.72,166.29 L185.08,166.10 L184.45,165.90 L183.81,165.71 L183.18,165.51 L182.54,165.30 L181.91,165.08 L181.27,164.84 L180.64,164.59 L180.00,164.33 L179.37,164.04 L178.73,163.74 L178.10,163.42 L177.46,163.09 L176.82,162.75 L176.19,162.41 L175.55,162.07 L174.92,161.72 L174.28,161.37 L173.65,161.02 L173.01,160.66 L172.38,160.29 L171.74,159.92 L171.11,159.54 L170.47,159.15 L169.84,158.76 L169.20,158.35 L168.57,157.94 L167.93,157.53 L167.30,157.11 L166.66,156.68 L166.03,156.24 L165.39,155.79 L164.75,155.33 L164.12,154.86 L163.48,154.37 L162.85,153.87 L162.21,153.34 L161.58,152.80 L160.94,152.24 L160.31,151.67 L159.67,151.07 L159.04,150.45 L158.40,149.81 L157.77,149.14 L157.13,148.46 L156.50,147.74 L155.86,147.00 L155.23,146.22 L154.59,145.40 L153.95,144.54 L153.32,143.66 L152.68,142.73 L152.05,141.78 L151.41,140.79 L150.78,139.78 L150.14,138.74 L149.51,137.61 L148.87,136.40 L148.24,135.17 L147.60,133.94 L146.97,132.70 L146.33,131.42 L145.70,130.09 L145.06,128.63 L144.43,127.07 L143.79,125.56 L143.16,124.21 L142.52,122.98 L141.88,121.81 L141.25,120.71 L140.61,119.69 L139.98,118.77 L139.34,117.95 L138.71,117.21 L138.07,116.53 L137.44,115.86 L136.80,115.18 L136.17,114.46 L135.53,113.71 L134.90,112.94 L134.26,112.16 L133.63,111.38 L132.99,110.59 L132.36,109.79 L131.72,108.96 L131.09,108.13 L130.45,107.29 L129.81,106.45 L129.18,105.64 L128.54,104.84 L127.91,104.08 L127.27,103.36 L126.64,102.68 L126.00,102.02 L125.37,101.38 L124.73,100.76 L124.10,100.15 L123.46,99.55 L122.83,98.95 L122.19,98.35 L121.56,97.75 L120.92,97.13 L120.29,96.50 L119.65,95.86 L119.02,95.21 L118.38,94.57 L117.74,93.94 L117.11,93.32 L116.47,92.71 L115.84,92.11 L115.20,91.55 L114.57,91.01 L113.93,90.48 L113.30,89.97 L112.66,89.48 L112.03,89.00 L111.39,88.54 L110.76,88.09 L110.12,87.65 L109.49,87.23 L108.85,86.83 L108.22,86.45 L107.58,86.08 L106.94,85.71 L106.31,85.34 L105.67,84.97 L105.04,84.59 L104.40,84.19 L103.77,83.77 L103.13,83.35 L102.50,82.93 L101.86,82.51 L101.23,82.09 L100.59,81.68 L99.96,81.29 L99.32,80.92 L98.69,80.56 L98.05,80.21 L97.42,79.86 L96.78,79.51 L96.15,79.14 L95.51,78.75 L94.87,78.33 L94.24,77.88 L93.60,77.34 L92.97,76.75 L92.33,76.16 L91.70,75.64 L91.06,75.14 L90.43,74.65 L89.79,74.17 L89.16,73.72 L88.52,73.29 L87.89,72.91 L87.25,72.58 L86.62,72.27 L85.98,71.99 L85.35,71.72 L84.71,71.46 L84.08,71.22 L83.44,71.00 L82.80,70.79 L82.17,70.59 L81.53,70.41 L80.90,70.25 L80.26,70.09 L79.63,69.95 L78.99,69.81 L78.36,69.67 L77.72,69.55 L77.09,69.43 L76.45,69.33 L75.82,69.23 L75.18,69.14 L74.55,69.05 L73.91,68.98 L73.28,68.90 L72.64,68.83 L72.01,68.77 L71.37,68.71 L70.73,68.65 L70.10,68.60 L69.46,68.55 L68.83,68.51 L68.19,68.47 L67.56,68.42 L66.92,68.38 L66.29,68.34 L65.65,68.30 L65.02,68.27 L64.38,68.24 L63.75,68.22 L63.11,68.20 L62.48,68.20 L61.84,68.21 L61.21,68.24 L60.57,68.28 L59.93,68.33 L59.30,68.39 L58.66,68.46 L58.03,68.53 L57.39,68.60 L56.76,68.66 L56.12,68.73 L55.49,68.79 L54.85,68.86 L54.22,68.93 L53.58,69.01 L52.95,69.09 L52.31,69.17 L51.68,69.25 L51.04,69.33 L50.41,69.42 L49.77,69.51 L49.14,69.60 L48.50,69.70Z" fill="#ccccff"/>
<path d="M48.50,58.30 L49.14,58.23 L49.77,58.16 L50.41,58.10 L51.04,58.04 L51.68,57.98 L52.31,57.93 L52.95,57.88 L53.58,57.83 L54.22,57.79 L54.85,57.76 L55.49,57.73 L56.12,57.71 L56.76,57.69 L57.39,57.67 L58.03,57.66 L58.66,57.65 L59.30,57.63 L59.93,57.62 L60.57,57.61 L61.21,57.61 L61.84,57.60 L62.48,57.60 L63.11,57.61 L63.75,57.62 L64.38,57.65 L65.02,57.69 L65.65,57.73 L66.29,57.78 L66.92,57.84 L67.56,57.89 L68.19,57.95 L68.83,58.01 L69.46,58.08 L70.10,58.16 L70.73,58.24 L71.37,58.34 L72.01,58.45 L72.64,58.56 L73.28,58.68 L73.91,58.80 L74.55,58.93 L75.18,59.06 L75.82,59.20 L76.45,59.36 L77.09,59.53 L77.72,59.70 L78.36,59.89 L78.99,60.09 L79.63,60.29 L80.26,60.51 L80.90,60.73 L81.53,60.96 L82.17,61.22 L82.80,61.49 L83.44,61.78 L84.08,62.08 L84.71,62.40 L85.35,62.71 L85.98,63.04 L86.62,63.36 L87.25,63.68 L87.89,63.99 L88.52,64.29 L89.16,64.62 L89.79,64.97 L90.43,65.38 L91.06,65.85 L91.70,66.36 L92.33,66.91 L92.97,67.47 L93.60,68.03 L94.24,68.57 L94.87,69.09 L95.51,69.62 L96.15,70.14 L96.78,70.67 L97.42,71.20 L98.05,71.72 L98.69,72.25 L99.32,72.76 L99.96,73.27 L100.59,73.77 L101.23,74.27 L101.86,74.76 L102.50,75.25 L103.13,75.73 L103.77,76.21 L104.40,76.68 L105.04,77.15 L105.67,77.61 L106.31,78.06 L106.94,78.51 L107.58,78.94 L108.22,79.35 L108.85,79.75 L109.49,80.16 L110.12,80.58 L110.76,81.01 L111.39,81.47 L112.03,81.95 L112.66,82.46 L113.30,82.99 L113.93,83.53 L114.57,84.09 L115.20,84.67 L115.84,85.27 L116.47,85.88 L117.11,86.51 L117.74,87.17 L118.38,87.85 L119.02,88.55 L119.65,89.26 L120.29,89.98 L120.92,90.69 L121.56,91.39 L122.19,92.10 L122.83,92.80 L123.46,93.51 L124.10,94.22 L124.73,94.94 L125.37,95.66 L126.00,96.38 L126.64,97.11 L127.27,97.85 L127.91,98.60 L128.54,99.35 L129.18,100.11 L129.81,100.87 L130.45,101.64 L131.09,102.41 L131.72,103.19 L132.36,103.98 L132.99,104.76 L133.63,105.56 L134.26,106.35 L134.90,107.14 L135.53,107.93 L136.17,108.73 L136.80,109.54 L137.44,110.35 L138.07,111.19 L138.71,112.03 L139.34,112.90 L139.98,113.79 L140.61,114.70 L141.25,115.62 L141.88,116.57 L142.52,117.56 L143.16,118.58 L143.79,119.66 L144.43,120.81 L145.06,122.05 L145.70,123.33 L146.33,124.63 L146.97,125.93 L147.60,127.20 L148.24,128.49 L148.87,129.79 L149.51,131.09 L150.14,132.37 L150.78,133.60 L151.41,134.78 L152.05,135.96 L152.68,137.14 L153.32,138.29 L153.95,139.41 L154.59,140.48 L155.23,141.47 L155.86,142.38 L156.50,143.20 L157.13,143.97 L157.77,144.70 L158.40,145.38 L159.04,146.04 L159.67,146.67 L160.31,147.27 L160.94,147.87 L161.58,148.45 L162.21,149.03 L162.85,149.61 L163.48,150.17 L164.12,150.72 L164.75,151.25 L165.39,151.77 L166.03,152.29 L166.66,152.79 L167.30,153.28 L167.93,153.77 L168.57,154.25 L169.20,154.72 L169.84,155.20 L170.47,155.66 L171.11,156.12 L171.74,156.57 L172.38,157.00 L173.01,157.43 L173.65,157.85 L174.28,158.25 L174.92,158.63 L175.55,159.01 L176.19,159.38 L176.82,159.74 L177.46,160.09 L178.10,160.43 L178.73,160.76 L179.37,161.08 L180.00,161.39 L180.64,161.68 L181.27,161.96 L181.91,162.24 L182.54,162.51 L183.18,162.77 L183.81,163.02 L184.45,163.27 L185.08,163.51 L185.72,163.73 L186.35,163.94 L186.99,164.15 L187.62,164.34 L188.26,164.51 L188.89,164.69 L189.53,164.85 L190.17,165.00 L190.80,165.15 L191.44,165.30 L192.07,165.44 L192.71,165.58 L193.34,165.71 L193.98,165.85 L194.61,165.98 L195.25,166.12 L195.88,166.25 L196.52,166.38 L197.15,166.50 L197.79,166.63 L198.42,166.75 L199.06,166.87 L199.69,166.98 L200.33,167.10 L200.96,167.21 L201.60,167.32 L202.24,167.43 L202.87,167.54 L203.51,167.65 L204.14,167.76 L204.78,167.86 L205.41,167.96 L206.05,168.05 L206.68,168.14 L207.32,168.23 L207.95,168.31 L208.59,168.40 L209.22,168.48 L209.86,168.57 L210.49,168.65 L211.13,168.73 L211.76,168.80 L212.40,168.88 L213.04,168.95 L213.67,169.01 L214.31,169.07 L214.94,169.12 L215.58,169.17 L216.21,169.21 L216.85,169.25 L217.48,169.29 L218.12,169.33 L218.75,169.37 L219.39,169.41 L220.02,169.45 L220.66,169.48 L221.29,169.51 L221.93,169.54 L222.56,169.56 L223.20,169.58 L223.83,169.59 L224.47,169.60 L225.11,169.60 L225.74,169.60 L226.38,169.60 L227.01,169.60 L227.65,169.60 L228.28,169.60 L228.92,169.60 L229.55,169.60 L230.19,169.60 L230.82,169.60 L231.46,169.60 L232.09,169.60 L232.73,169.60 L233.36,169.60 L234.00,169.60 L234.63,169.60 L235.27,169.60 L235.90,169.60 L236.54,169.60 L237.18,169.60 L237.81,169.59 L238.45,169.59 L239.08,169.58 L239.72,169.58 L240.35,169.57 L240.99,169.56 L241.62,169.55 L242.26,169.54 L242.89,169.53 L243.53,169.51 L244.16,169.50 L244.80,169.49 L245.43,169.47 L246.07,169.46 L246.70,169.44 L247.34,169.43 L247.97,169.41 L248.61,169.39 L249.25,169.38 L249.88,169.36 L250.52,169.35 L251.15,169.33 L251.79,169.31 L252.42,169.30 L253.06,169.28 L253.69,169.26 L254.33,169.24 L254.96,169.22 L255.60,169.20 L256.23,169.18 L256.87,169.16 L257.50,169.13 L258.14,169.11 L258.77,169.08 L259.41,169.06 L260.05,169.03 L260.68,169.01 L261.32,168.98 L261.95,168.95 L262.59,168.93 L263.22,168.90 L263.86,168.87 L264.49,168.85 L265.13,168.82 L265.76,168.80 L266.40,168.77 L267.03,168.75 L267.67,168.73 L268.30,168.70 L268.94,168.68 L269.57,168.66 L270.21,168.64 L270.84,168.62 L271.48,168.60 L272.12,168.58 L272.75,168.57 L273.39,168.55 L274.02,168.53 L274.66,168.51 L275.29,168.49 L275.93,168.47 L276.56,168.46 L277.20,168.44 L277.83,168.42 L278.47,168.40 L279.10,168.37 L279.74,168.35 L280.37,168.33 L281.01,168.30 L281.64,168.28 L282.28,168.25 L282.91,168.22 L283.55,168.19 L284.19,168.16 L284.82,168.13 L285.46,168.09 L286.09,168.06 L286.73,168.03 L287.36,167.99 L288.00,167.95 L288.63,167.92 L289.27,167.88 L289.90,167.84 L290.54,167.80 L291.17,167.76 L291.81,167.72 L292.44,167.69 L293.08,167.65 L293.71,167.61 L294.35,167.57 L294.98,167.53 L295.62,167.50 L296.26,167.46 L296.89,167.42 L297.53,167.39 L298.16,167.35 L298.80,167.32 L299.43,167.28 L300.07,167.25 L300.70,167.21 L301.34,167.18 L301.97,167.15 L302.61,167.11 L303.24,167.08 L303.88,167.05 L304.51,167.01 L305.15,166.98 L305.78,166.94 L306.42,166.91 L307.06,166.87 L307.69,166.84 L308.33,166.80 L308.96,166.77 L309.60,166.73 L310.23,166.69 L310.87,166.66 L311.50,166.62 L312.14,166.58 L312.77,166.54 L313.41,166.50 L314.04,166.46 L314.68,166.42 L315.31,166.37 L315.95,166.33 L316.58,166.28 L317.22,166.23 L317.85,166.18 L318.49,166.13 L319.13,166.08 L319.76,166.03 L320.40,165.98 L321.03,165.93 L321.67,165.88 L322.30,165.83 L322.94,165.78 L323.57,165.73 L324.21,165.68 L324.84,165.64 L325.48,165.59 L326.11,165.54 L326.75,165.49 L327.38,165.45 L328.02,165.41 L328.65,165.36 L329.29,165.32 L329.92,165.28 L330.56,165.24 L331.20,165.20 L331.83,165.16 L332.47,165.12 L333.10,165.08 L333.74,165.04 L334.37,165.00 L335.01,164.96 L335.64,164.92 L336.28,164.88 L336.91,164.84 L337.55,164.81 L338.18,164.77 L338.82,164.73 L339.45,164.69 L340.09,164.65 L340.72,164.62 L341.36,164.58 L341.99,164.54 L342.63,164.50 L343.27,164.46 L343.90,164.42 L344.54,164.39 L345.17,164.35 L345.81,164.31 L346.44,164.27 L347.08,164.23 L347.71,164.19 L348.35,164.15 L348.98,164.11 L349.62,164.07 L350.25,164.03 L350.89,163.99 L351.52,163.95 L352.16,163.92 L352.79,163.88 L353.43,163.84 L354.07,163.80 L354.70,163.76 L355.34,163.72 L355.97,163.68 L356.61,163.64 L357.24,163.60 L357.88,163.56 L358.51,163.52 L359.15,163.48 L359.78,163.45 L360.42,163.41 L361.05,163.37 L361.69,163.33 L362.32,163.29 L362.96,163.25 L363.59,163.21 L364.23,163.17 L364.86,163.13 L365.50,163.09" fill="none" stroke="#36369a" stroke-width="0.8"/>
<path d="M91.00,38.60V55.40M89.30,38.60H92.70M89.30,55.40H92.70" stroke="#000" stroke-width="0.62" fill="none"/>
<path d="M112.00,54.10V70.60M110.30,54.10H113.70M110.30,70.60H113.70" stroke="#000" stroke-width="0.62" fill="none"/>
<path d="M144.20,98.50V108.50M142.50,98.50H145.90M142.50,108.50H145.90" stroke="#000" stroke-width="0.62" fill="none"/>
<path d="M187.80,183.00V190.80M186.10,183.00H189.50M186.10,190.80H189.50" stroke="#000" stroke-width="0.62" fill="none"/>
<path d="M263.40,215.20V221.40M261.70,215.20H265.10M261.70,221.40H265.10" stroke="#000" stroke-width="0.62" fill="none"/>
<path d="M91.00,88.10V96.80M89.30,88.10H92.70M89.30,96.80H92.70" stroke="#000" stroke-width="0.62" fill="none"/>
<path d="M112.00,71.20V90.30M110.30,71.20H113.70M110.30,90.30H113.70" stroke="#000" stroke-width="0.62" fill="none"/>
<path d="M144.20,107.40V118.50M142.50,107.40H145.90M142.50,118.50H145.90" stroke="#000" stroke-width="0.62" fill="none"/>
<path d="M187.70,153.50V164.30M186.00,153.50H189.40M186.00,164.30H189.40" stroke="#000" stroke-width="0.62" fill="none"/>
<path d="M263.30,159.40V164.20M261.60,159.40H265.00M261.60,164.20H265.00" stroke="#000" stroke-width="0.62" fill="none"/>
<path d="M91.00,44.15L93.30,46.90L91.00,49.65L88.70,46.90Z" fill="#000"/>
<path d="M112.00,59.65L114.30,62.40L112.00,65.15L109.70,62.40Z" fill="#000"/>
<path d="M144.20,100.55L146.50,103.30L144.20,106.05L141.90,103.30Z" fill="#000"/>
<path d="M187.80,184.15L190.10,186.90L187.80,189.65L185.50,186.90Z" fill="#000"/>
<path d="M263.40,215.55L265.70,218.30L263.40,221.05L261.10,218.30Z" fill="#000"/>
<path d="M91.00,90.30 L91.76,92.05 L93.66,92.23 L92.24,93.50 L92.65,95.37 L91.00,94.40 L89.35,95.37 L89.76,93.50 L88.34,92.23 L90.24,92.05Z" fill="#000"/>
<path d="M112.00,79.00 L112.76,80.75 L114.66,80.93 L113.24,82.20 L113.65,84.07 L112.00,83.10 L110.35,84.07 L110.76,82.20 L109.34,80.93 L111.24,80.75Z" fill="#000"/>
<path d="M144.20,109.50 L144.96,111.25 L146.86,111.43 L145.44,112.70 L145.85,114.57 L144.20,113.60 L142.55,114.57 L142.96,112.70 L141.54,111.43 L143.44,111.25Z" fill="#000"/>
<path d="M187.70,156.60 L188.46,158.35 L190.36,158.53 L188.94,159.80 L189.35,161.67 L187.70,160.70 L186.05,161.67 L186.46,159.80 L185.04,158.53 L186.94,158.35Z" fill="#000"/>
<path d="M263.30,159.30 L264.06,161.05 L265.96,161.23 L264.54,162.50 L264.95,164.37 L263.30,163.40 L261.65,164.37 L262.06,162.50 L260.64,161.23 L262.54,161.05Z" fill="#000"/>
<rect x="42.3" y="21.5" width="329.0" height="205.9" fill="none" stroke="#585858" stroke-width="1"/>
<path d="M48.52,227.4v-2.1M48.52,21.5v2.1M57.98,227.4v-2.1M57.98,21.5v2.1M67.44,227.4v-2.1M67.44,21.5v2.1M76.90,227.4v-3.8M76.90,21.5v3.8M86.36,227.4v-2.1M86.36,21.5v2.1M95.82,227.4v-2.1M95.82,21.5v2.1M105.28,227.4v-2.1M105.28,21.5v2.1M114.74,227.4v-2.1M114.74,21.5v2.1M124.20,227.4v-3.8M124.20,21.5v3.8M133.66,227.4v-2.1M133.66,21.5v2.1M143.12,227.4v-2.1M143.12,21.5v2.1M152.58,227.4v-2.1M152.58,21.5v2.1M162.04,227.4v-2.1M162.04,21.5v2.1M171.50,227.4v-3.8M171.50,21.5v3.8M180.96,227.4v-2.1M180.96,21.5v2.1M190.42,227.4v-2.1M190.42,21.5v2.1M199.88,227.4v-2.1M199.88,21.5v2.1M209.34,227.4v-2.1M209.34,21.5v2.1M218.80,227.4v-3.8M218.80,21.5v3.8M228.26,227.4v-2.1M228.26,21.5v2.1M237.72,227.4v-2.1M237.72,21.5v2.1M247.18,227.4v-2.1M247.18,21.5v2.1M256.64,227.4v-2.1M256.64,21.5v2.1M266.10,227.4v-3.8M266.10,21.5v3.8M275.56,227.4v-2.1M275.56,21.5v2.1M285.02,227.4v-2.1M285.02,21.5v2.1M294.48,227.4v-2.1M294.48,21.5v2.1M303.94,227.4v-2.1M303.94,21.5v2.1M313.40,227.4v-3.8M313.40,21.5v3.8M322.86,227.4v-2.1M322.86,21.5v2.1M332.32,227.4v-2.1M332.32,21.5v2.1M341.78,227.4v-2.1M341.78,21.5v2.1M351.24,227.4v-2.1M351.24,21.5v2.1M360.70,227.4v-3.8M360.70,21.5v3.8M370.16,227.4v-2.1M370.16,21.5v2.1M42.3,226.24h2.1M371.3,226.24h-2.1M42.3,218.53h2.1M371.3,218.53h-2.1M42.3,210.82h2.1M371.3,210.82h-2.1M42.3,203.11h2.1M371.3,203.11h-2.1M42.3,195.40h3.8M371.3,195.40h-3.8M42.3,187.69h2.1M371.3,187.69h-2.1M42.3,179.98h2.1M371.3,179.98h-2.1M42.3,172.27h2.1M371.3,172.27h-2.1M42.3,164.56h2.1M371.3,164.56h-2.1M42.3,156.85h3.8M371.3,156.85h-3.8M42.3,149.14h2.1M371.3,149.14h-2.1M42.3,141.43h2.1M371.3,141.43h-2.1M42.3,133.72h2.1M371.3,133.72h-2.1M42.3,126.01h2.1M371.3,126.01h-2.1M42.3,118.30h3.8M371.3,118.30h-3.8M42.3,110.59h2.1M371.3,110.59h-2.1M42.3,102.88h2.1M371.3,102.88h-2.1M42.3,95.17h2.1M371.3,95.17h-2.1M42.3,87.46h2.1M371.3,87.46h-2.1M42.3,79.75h3.8M371.3,79.75h-3.8M42.3,72.04h2.1M371.3,72.04h-2.1M42.3,64.33h2.1M371.3,64.33h-2.1M42.3,56.62h2.1M371.3,56.62h-2.1M42.3,48.91h2.1M371.3,48.91h-2.1M42.3,41.20h3.8M371.3,41.20h-3.8M42.3,33.49h2.1M371.3,33.49h-2.1M42.3,25.78h2.1M371.3,25.78h-2.1" stroke="#585858" stroke-width="1" fill="none"/>
<text x="76.90" y="240.85" text-anchor="middle" font-size="12.6" font-family="Liberation Serif, serif" fill="#000">150</text>
<text x="124.20" y="240.85" text-anchor="middle" font-size="12.6" font-family="Liberation Serif, serif" fill="#000">160</text>
<text x="171.50" y="240.85" text-anchor="middle" font-size="12.6" font-family="Liberation Serif, serif" fill="#000">170</text>
<text x="218.80" y="240.85" text-anchor="middle" font-size="12.6" font-family="Liberation Serif, serif" fill="#000">180</text>
<text x="266.10" y="240.85" text-anchor="middle" font-size="12.6" font-family="Liberation Serif, serif" fill="#000">190</text>
<text x="313.40" y="240.85" text-anchor="middle" font-size="12.6" font-family="Liberation Serif, serif" fill="#000">200</text>
<text x="360.70" y="240.85" text-anchor="middle" font-size="12.6" font-family="Liberation Serif, serif" fill="#000">210</text>
<text x="39.6" y="197.95" text-anchor="end" font-size="12.8" font-family="Liberation Serif, serif" fill="#000">300</text>
<text x="39.6" y="159.95" text-anchor="end" font-size="12.8" font-family="Liberation Serif, serif" fill="#000">400</text>
<text x="39.6" y="121.40" text-anchor="end" font-size="12.8" font-family="Liberation Serif, serif" fill="#000">500</text>
<text x="39.6" y="83.15" text-anchor="end" font-size="12.8" font-family="Liberation Serif, serif" fill="#000">600</text>
<text x="39.6" y="44.75" text-anchor="end" font-size="12.8" font-family="Liberation Serif, serif" fill="#000">700</text>
<text x="207.2" y="12.2" text-anchor="middle" font-size="14.8" font-family="Liberation Serif, serif" fill="#000">Baryon chemical potential</text>
<text x="206.9" y="258.5" text-anchor="middle" font-size="12.2" font-family="Liberation Serif, serif" fill="#000">T[MeV]</text>
<g transform="translate(10.5,148.2) rotate(-90)" font-family="Liberation Serif, serif" fill="#000"><text x="0.1" y="-0.9" font-size="14.4" font-style="italic">μ</text><text x="7.6" y="3.3" font-size="10.5" font-style="italic">B</text><text x="14.2" y="0" font-size="12">[MeV]</text></g>
</svg></body></html>
